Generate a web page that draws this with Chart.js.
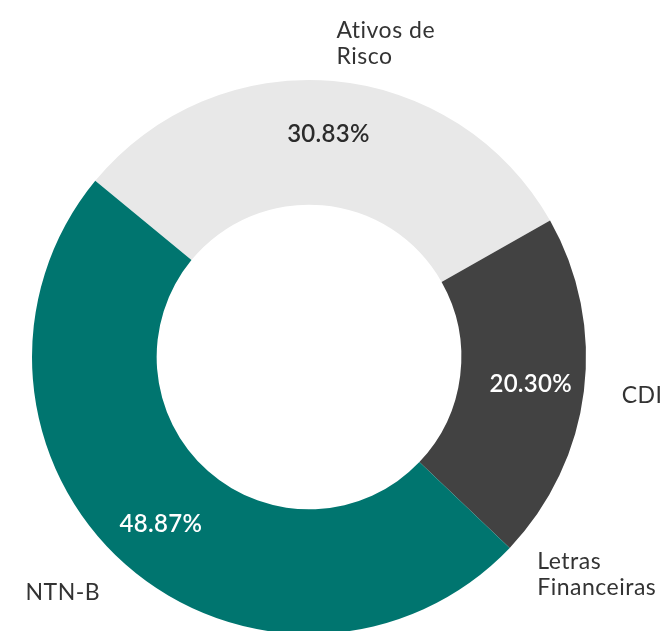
<!DOCTYPE html>
<html lang="pt-BR">
<head>
    <meta charset="UTF-8">
    <title>Alocação</title>
    <script src="https://cdn.jsdelivr.net/npm/chart.js@4.4.1/dist/chart.umd.min.js"></script>
    <style>
        html, body {
            margin: 0;
            padding: 0;
            background: #ffffff;
            overflow: hidden;
        }
        canvas {
            display: block;
        }
    </style>
</head>
<body>
    <canvas id="myChart" width="672" height="640"></canvas>

    <script>
        // Dados do gráfico
        const categories = ['Ativos de Risco', 'CDI', 'Letras Financeiras', 'NTN-B'];
        const labelLines = [['Ativos de', 'Risco'], ['CDI'], ['Letras', 'Financeiras'], ['NTN-B']];
        const values = [30.83, 20.30, 0, 48.87];
        const colors = ['#e8e8e8', '#424242', '#b0b0b0', '#00756f'];
        const valueTextColors = ['#2b2b2b', '#ffffff', '#ffffff', '#ffffff'];

        const total = values.reduce((s, v) => s + v, 0);

        // Rótulos: percentual dentro do anel e nome da categoria fora
        const labelPlugin = {
            id: 'donutLabels',
            afterDatasetsDraw(chart) {
                const ctx = chart.ctx;
                const meta = chart.getDatasetMeta(0);
                meta.data.forEach((arc, i) => {
                    const p = arc.getProps(['x', 'y', 'startAngle', 'endAngle', 'innerRadius', 'outerRadius'], true);
                    const mid = (p.startAngle + p.endAngle) / 2;
                    const cos = Math.cos(mid);
                    const sin = Math.sin(mid);

                    // percentual
                    if (values[i] > 0) {
                        const r = p.innerRadius + (p.outerRadius - p.innerRadius) * 0.57;
                        ctx.save();
                        ctx.font = '600 24px Lato';
                        ctx.letterSpacing = '0.3px';
                        ctx.fillStyle = valueTextColors[i];
                        ctx.textAlign = 'center';
                        ctx.textBaseline = 'middle';
                        ctx.fillText((values[i] / total * 100).toFixed(2) + '%', p.x + cos * r, p.y + sin * r);
                        ctx.restore();
                    }

                    // nome da categoria
                    const ro = p.outerRadius + 38;
                    const lx = p.x + cos * ro;
                    const ly = p.y + sin * ro;
                    const lines = labelLines[i];
                    const lh = 26;
                    ctx.save();
                    ctx.font = '23px Lato';
                    ctx.letterSpacing = '0.5px';
                    ctx.fillStyle = '#333333';
                    ctx.textAlign = cos >= 0 ? 'left' : 'right';
                    ctx.textBaseline = 'middle';
                    lines.forEach((line, k) => {
                        ctx.fillText(line, lx, ly + (k - (lines.length - 1) / 2) * lh);
                    });
                    ctx.restore();
                });
            }
        };

        const ctx = document.getElementById('myChart').getContext('2d');
        const myChart = new Chart(ctx, {
            type: 'doughnut',
            data: {
                labels: categories,
                datasets: [{
                    data: values,
                    backgroundColor: colors,
                    borderWidth: 0,
                    hoverOffset: 0
                }]
            },
            options: {
                responsive: false,
                animation: false,
                rotation: -50.5,
                cutout: '55%',
                layout: {
                    padding: { left: 32, right: 86, top: 80, bottom: 6 }
                },
                plugins: {
                    legend: { display: false },
                    tooltip: { enabled: false }
                }
            },
            plugins: [labelPlugin]
        });
    </script>
</body>
</html>
